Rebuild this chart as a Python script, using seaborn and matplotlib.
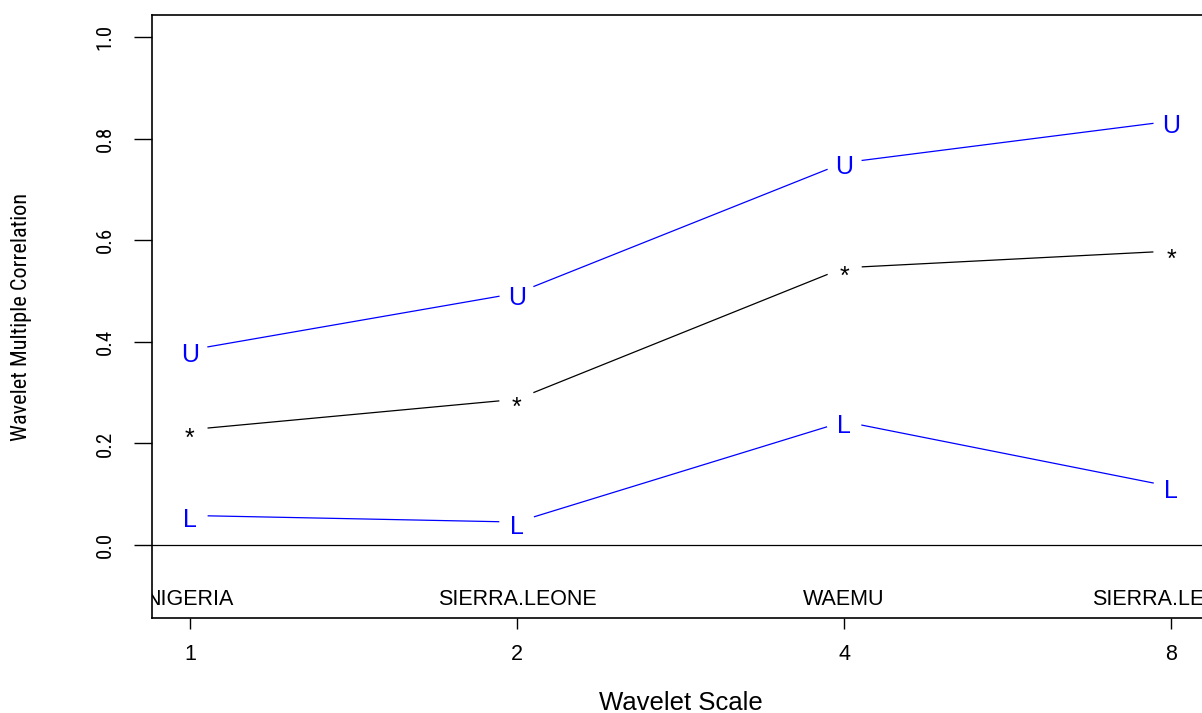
import numpy as np
import pandas as pd
import matplotlib
matplotlib.use('Agg')
import matplotlib.pyplot as plt
from matplotlib import font_manager
import seaborn as sns

# wavelet scales and the country that leads at each scale
SCALES = ['1', '2', '4', '8']
LEADERS = ['NIGERIA', 'SIERRA.LEONE', 'WAEMU', 'SIERRA.LEONE']

# estimate and confidence bounds
UPPER = [0.384, 0.496, 0.753, 0.835]
ESTIMATE = [0.227, 0.287, 0.546, 0.579]
LOWER = [0.058, 0.045, 0.243, 0.115]

BLUE = '#0000FF'
LEADER_Y = -0.118


def pick_font(names):
    for name in names:
        try:
            font_manager.findfont(name, fallback_to_default=False)
            return name
        except ValueError:
            continue
    return 'DejaVu Sans'


sns.set_style('ticks')
REGULAR = pick_font(['Liberation Sans', 'Arimo', 'DejaVu Sans'])
NARROW = pick_font(['Liberation Sans Narrow', 'Roboto Condensed', 'DejaVu Sans Condensed', REGULAR])
plt.rcParams['font.family'] = [REGULAR, 'DejaVu Sans']
plt.rcParams['text.color'] = 'black'
plt.rcParams['axes.labelcolor'] = 'black'

pos = np.arange(1, len(SCALES) + 1)
df = pd.concat([
    pd.DataFrame({'pos': pos, 'value': UPPER, 'series': 'U'}),
    pd.DataFrame({'pos': pos, 'value': ESTIMATE, 'series': '*'}),
    pd.DataFrame({'pos': pos, 'value': LOWER, 'series': 'L'}),
], ignore_index=True)
palette = {'U': BLUE, '*': 'black', 'L': BLUE}

fig = plt.figure(figsize=(12.02, 7.13), dpi=100)
ax = fig.add_axes([152 / 1202, 95 / 713, 1057 / 1202, 603 / 713])

sns.lineplot(data=df, x='pos', y='value', hue='series', palette=palette,
             linewidth=0.9, legend=False, ax=ax, zorder=2)
# white discs give the gaps around each point, like R type="b"
sns.scatterplot(data=df, x='pos', y='value', color='white', s=650,
                edgecolor='none', legend=False, ax=ax, zorder=3)

for _, row in df.iterrows():
    dy = -11.5 if row['series'] == '*' else -8.4
    ax.annotate(row['series'], (row['pos'], row['value']), xytext=(0, dy),
                textcoords='offset points', ha='center', va='baseline',
                fontsize=18, color=palette[row['series']], zorder=4)

ax.axhline(0, color='black', linewidth=0.9, zorder=1)

for p, name in zip(pos, LEADERS):
    ax.text(p, LEADER_Y, name, ha='center', va='baseline', fontsize=15.5,
            color='black', clip_on=True)

ax.set_xlim(0.884, 4.116)
ax.set_ylim(-0.144, 1.044)
ax.set_xticks(pos)
ax.set_xticklabels(SCALES, fontsize=15.5)
ax.set_yticks([0.0, 0.2, 0.4, 0.6, 0.8, 1.0])
ax.set_yticklabels(['0.0', '0.2', '0.4', '0.6', '0.8', '1.0'],
                   fontsize=15, family=NARROW, rotation=90, va='center')

ax.tick_params(axis='x', length=8, width=1, pad=11, colors='black')
ax.tick_params(axis='y', length=13, width=1, pad=14, colors='black')

for side in ['left', 'right', 'top', 'bottom']:
    ax.spines[side].set_visible(True)
    ax.spines[side].set_linewidth(1.2)
    ax.spines[side].set_color('black')

ax.set_xlabel('Wavelet Scale', fontsize=18.5, color='black')
ax.xaxis.set_label_coords(0.5, -0.121)
ax.set_ylabel('Wavelet Multiple Correlation', fontsize=16, family=NARROW,
              color='black')
ax.yaxis.set_label_coords(-0.1135, 0.5)

fig.savefig('out.png', dpi=100)
